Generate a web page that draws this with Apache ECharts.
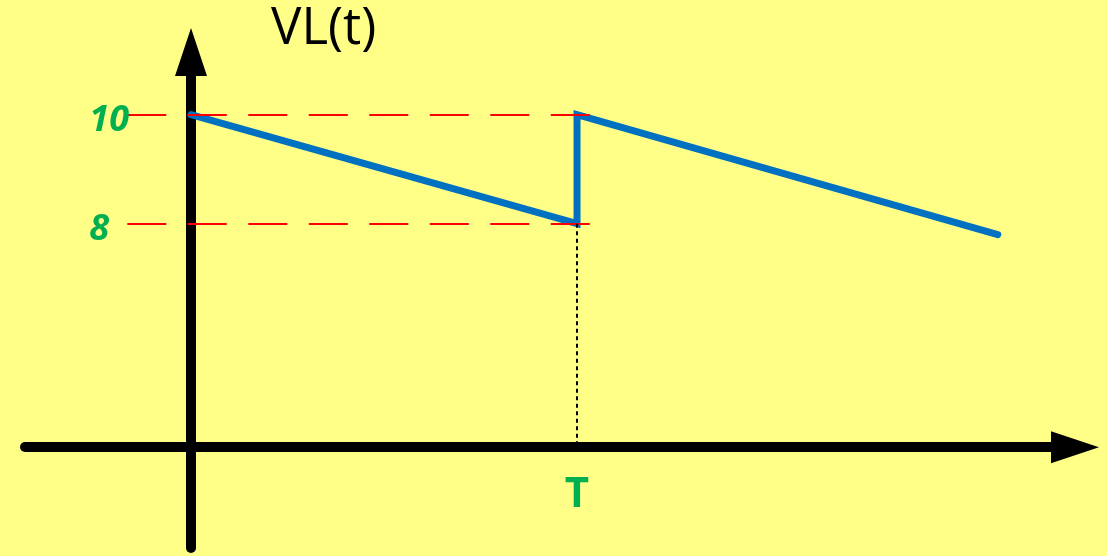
<!DOCTYPE html>
<html>
<head>
<meta charset="utf-8">
<title>VL(t)</title>
<script src="https://cdn.jsdelivr.net/npm/echarts@6/dist/echarts.min.js"></script>
<style>
  html, body { margin: 0; padding: 0; background: #FFFF88; }
  #chart { width: 1107px; height: 556px; }
</style>
</head>
<body>
<div id="chart"></div>
<script>
// Time is measured in units of the period T
const periodT = 1;
const timeLabels = ['T'];

// Load voltage VL(t): decays from 10 to 8 over one period, jumps back to 10, decays again
const vlTime = [0, 1, 1, 2.09];
const vlValue = [10, 8, 10, 7.8];

// Levels marked on the VL axis
const levelValues = [10, 8];
const levelLabels = ['10', '8'];

// VL level at which the time axis is drawn
const timeAxisLevel = 3.9;

// Extent of the dashed guide lines (in units of T)
const guideFrom = -0.165;
const guideTo = 1.035;

// Visible ranges of both axes
const xRange = [-0.43, 2.29];
const yRange = [2.05, 11.15];

const GREEN = '#00B050';
const axisLineStyle = { color: '#000000', width: 10, cap: 'round' };

const chart = echarts.init(document.getElementById('chart'), null, { renderer: 'canvas' });

// dashed red guides at each marked level, labelled on the left
const guideLines = levelValues.map((v, i) => [
  {
    coord: [guideFrom, v],
    lineStyle: { color: '#FF0000', width: 2, type: [39, 21.5] },
    label: {
      show: true,
      position: 'start',
      formatter: levelLabels[i],
      align: 'left',
      verticalAlign: 'top',
      lineHeight: 12,
      distance: 38,
      color: GREEN, fontFamily: 'Open Sans', fontSize: 36,
      fontWeight: 'bold', fontStyle: 'italic'
    }
  },
  { coord: [guideTo, v] }
]);

// dotted drop line from the end of the first period down to the time axis
const periodMarker = [
  {
    coord: [periodT, vlValue[1]],
    lineStyle: { color: '#000000', width: 2, type: [4, 3.5] },
    label: {
      show: true,
      position: 'end',
      formatter: timeLabels[0],
      distance: 27,
      color: GREEN, fontFamily: 'Open Sans', fontSize: 42, fontWeight: 'bold'
    }
  },
  { coord: [periodT, timeAxisLevel] }
];

chart.setOption({
  backgroundColor: '#FFFF88',
  animation: false,
  title: {
    text: 'VL(t)',
    left: 271,
    top: 4,
    padding: 0,
    textStyle: { fontFamily: 'Open Sans', fontSize: 51, fontWeight: 'normal', color: '#000000' }
  },
  grid: {
    left: 25, right: 32, top: 52, bottom: 8,
    containLabel: false,
    outerBoundsMode: 'none'
  },
  xAxis: {
    type: 'value',
    min: xRange[0],
    max: xRange[1],
    axisLine: {
      show: true, onZero: true, onZeroAxisIndex: 1,
      symbol: ['none', 'triangle'], symbolSize: [32, 48],
      lineStyle: axisLineStyle
    },
    axisTick: { show: false },
    splitLine: { show: false },
    axisLabel: { show: false }
  },
  yAxis: [{
    type: 'value',
    min: yRange[0],
    max: yRange[1],
    axisLine: {
      show: true, onZero: true,
      symbol: ['none', 'triangle'], symbolSize: [32, 48],
      lineStyle: axisLineStyle
    },
    axisTick: { show: false },
    splitLine: { show: false },
    axisLabel: { show: false }
  }, {
    // reference scale whose zero is the level of the time axis
    type: 'value',
    min: yRange[0] - timeAxisLevel,
    max: yRange[1] - timeAxisLevel,
    show: false
  }],
  series: [{
    type: 'line',
    data: vlTime.map((t, i) => [t, vlValue[i]]),
    symbol: 'none',
    lineStyle: { color: '#0070C0', width: 7, cap: 'round', join: 'miter' },
    markLine: {
      silent: true,
      symbol: ['none', 'none'],
      data: guideLines.concat([periodMarker])
    }
  }]
});
</script>
</body>
</html>
